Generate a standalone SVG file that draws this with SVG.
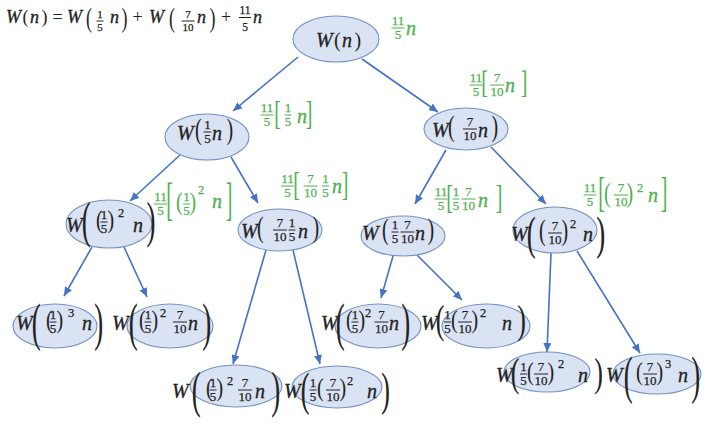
<svg xmlns="http://www.w3.org/2000/svg" width="708" height="424" viewBox="0 0 708 424">
<defs>
<style>
.e{fill:#dae3f3;stroke:#7391c2;stroke-width:1.1}
.m{font-family:"Liberation Serif","Times New Roman",serif;font-style:italic;font-size:20px;fill:#222;stroke:#222;stroke-width:0.3}
.p{font-family:"Liberation Serif","Times New Roman",serif;font-size:20px;fill:#222}
.d{font-family:"Liberation Serif","Times New Roman",serif;font-size:13px;text-anchor:middle;fill:#222;stroke:#222;stroke-width:0.25}
.s{font-family:"Liberation Serif","Times New Roman",serif;font-size:12.5px;fill:#222;stroke:#222;stroke-width:0.25}
.b{stroke:#222;stroke-width:1}
.g .m,.g .p,.g .d,.g .s{fill:#4fb050;stroke:#4fb050}
.g .p{stroke:none}
.g .b{stroke:#4fb050}
.t .m,.t .p{font-size:18px}
.t .d{font-size:11px}
.c{stroke:#4472c4;stroke-width:1.6;fill:none;marker-end:url(#ah)}
</style>
<marker id="ah" markerUnits="userSpaceOnUse" markerWidth="9" markerHeight="8" viewBox="0 0 9 8" refX="9" refY="4" orient="auto">
<path d="M0,0 L9,4 L0,8 Z" fill="#4472c4"/>
</marker>
</defs>
<rect width="708" height="424" fill="#ffffff"/>

<g id="formula" class="t">
<text class="m" x="6" y="23">W</text><text class="p" x="22.5" y="23">(</text><text class="m" x="30" y="23">n</text><text class="p" x="41.5" y="23">)</text>
<text class="p" x="57.5" y="23" text-anchor="middle">=</text>
<text class="m" x="67" y="23">W</text>
<text class="p" transform="translate(86,27) scale(1,1.53)">(</text>
<text class="d" x="100" y="18">1</text><line class="b" x1="96.5" x2="103.5" y1="21" y2="21"/><text class="d" x="100" y="31">5</text>
<text class="m" x="110" y="23">n</text>
<text class="p" transform="translate(121.5,27) scale(1,1.53)">)</text>
<text class="p" x="137.5" y="23" text-anchor="middle">+</text>
<text class="m" x="149" y="23">W</text>
<text class="p" transform="translate(169,27) scale(1,1.53)">(</text>
<text class="d" x="188" y="18">7</text><line class="b" x1="181.5" x2="194.5" y1="21" y2="21"/><text class="d" x="188" y="31">10</text>
<text class="m" x="197" y="23">n</text>
<text class="p" transform="translate(209.5,27) scale(1,1.53)">)</text>
<text class="p" x="226" y="23" text-anchor="middle">+</text>
<text class="d" x="245" y="13.5" style="font-size:11.5px">11</text><line class="b" x1="239" x2="251" y1="17.5" y2="17.5"/><text class="d" x="245" y="31" style="font-size:11.5px">5</text>
<text class="m" x="253" y="23">n</text>
</g>

<g id="connectors">
<line class="c" x1="298" y1="57" x2="233" y2="111"/>
<line class="c" x1="362" y1="59" x2="438" y2="112"/>
<line class="c" x1="180" y1="155" x2="130" y2="201"/>
<line class="c" x1="231" y1="157" x2="258" y2="203"/>
<line class="c" x1="446" y1="150" x2="415" y2="204"/>
<line class="c" x1="491" y1="147" x2="546" y2="204"/>
<line class="c" x1="92" y1="247" x2="64" y2="296"/>
<line class="c" x1="124" y1="247" x2="147" y2="297"/>
<line class="c" x1="266" y1="250" x2="233" y2="364"/>
<line class="c" x1="293" y1="250" x2="320" y2="364"/>
<line class="c" x1="393" y1="256" x2="381" y2="298"/>
<line class="c" x1="417" y1="255" x2="462" y2="300"/>
<line class="c" x1="551" y1="253" x2="547" y2="352"/>
<line class="c" x1="577" y1="251" x2="640" y2="353"/>
</g>

<g id="n-root">
<ellipse class="e" cx="336" cy="39" rx="43" ry="23"/>
<text class="m" x="316" y="47">W</text><text class="p" x="334" y="47">(</text><text class="m" x="342" y="47">n</text><text class="p" x="354.5" y="47">)</text>
</g>
<g id="lbl-root" class="g">
<text class="d" x="398" y="24.5">11</text><line class="b" x1="391.5" x2="404.5" y1="28" y2="28"/><text class="d" x="398" y="38.5">5</text>
<text class="m" x="406" y="35">n</text>
</g>

<g id="n-l1a">
<ellipse class="e" cx="207" cy="137" rx="42" ry="23"/>
<text class="m" x="177" y="140">W</text>
<text class="p" transform="translate(195,139.1) scale(1,1.5)">(</text>
<text class="d" x="207.5" y="128.5">1</text><line class="b" x1="203.5" x2="211.5" y1="132" y2="132"/><text class="d" x="207.5" y="142.5">5</text>
<text class="m" x="212" y="140">n</text>
<text class="p" transform="translate(226.5,139.1) scale(1,1.5)">)</text>
</g>
<g id="lbl-l1a" class="g">
<text class="d" x="267" y="111.5">11</text><line class="b" x1="260.5" x2="273.5" y1="115" y2="115"/><text class="d" x="267" y="125.5">5</text>
<text class="p" transform="translate(274.2,123.7) scale(1,1.72)">[</text>
<text class="d" x="288" y="111.5">1</text><line class="b" x1="284.5" x2="291.5" y1="115" y2="115"/><text class="d" x="288" y="125.5">5</text>
<text class="m" x="297" y="123">n</text>
<text class="p" transform="translate(305.8,123.7) scale(1,1.72)">]</text>
</g>

<g id="n-l1b">
<ellipse class="e" cx="466" cy="129" rx="42" ry="21"/>
<text class="m" x="432" y="137">W</text>
<text class="p" transform="translate(448,136.1) scale(1,1.5)">(</text>
<text class="d" x="470" y="125.5">7</text><line class="b" x1="463" x2="477" y1="129" y2="129"/><text class="d" x="470" y="139.5">10</text>
<text class="m" x="478" y="137">n</text>
<text class="p" transform="translate(491.5,136.1) scale(1,1.5)">)</text>
</g>
<g id="lbl-l1b" class="g">
<text class="d" x="476" y="81.5">11</text><line class="b" x1="469.5" x2="482.5" y1="85" y2="85"/><text class="d" x="476" y="95.5">5</text>
<text class="p" transform="translate(481.2,93.1) scale(1,1.6)">[</text>
<text class="d" x="497" y="81.5">7</text><line class="b" x1="490" x2="504" y1="85" y2="85"/><text class="d" x="497" y="95.5">10</text>
<text class="m" x="505" y="92">n</text>
<text class="p" transform="translate(520.8,93.1) scale(1,1.6)">]</text>
</g>

<g id="n-l2a">
<ellipse class="e" cx="109" cy="224" rx="43" ry="24"/>
<text class="m" x="66" y="232">W</text>
<text class="p" transform="translate(81.7,237.4) scale(1.35,2.5)">(</text>
<text class="p" transform="translate(96,227.7) scale(1,1.3)">(</text>
<text class="d" x="104" y="218.5">1</text><line class="b" x1="100.5" x2="107.5" y1="222" y2="222"/><text class="d" x="104" y="232.5">5</text>
<text class="p" transform="translate(107.5,227.7) scale(1,1.3)">)</text>
<text class="s" x="118" y="217">2</text>
<text class="m" x="133" y="232">n</text>
<text class="p" transform="translate(146.5,237.4) scale(1.35,2.5)">)</text>
</g>
<g id="lbl-l2a" class="g">
<text class="d" x="160.5" y="200.5">11</text><line class="b" x1="154" x2="167" y1="204" y2="204"/><text class="d" x="160.5" y="214.5">5</text>
<text class="p" transform="translate(166.2,215) scale(1,2.27)">[</text>
<text class="p" transform="translate(176,210.2) scale(1,1.3)">(</text>
<text class="d" x="186.5" y="200.5">1</text><line class="b" x1="183" x2="190" y1="204" y2="204"/><text class="d" x="186.5" y="214.5">5</text>
<text class="p" transform="translate(189.5,210.2) scale(1,1.3)">)</text>
<text class="s" x="198" y="194">2</text>
<text class="m" x="212" y="208">n</text>
<text class="p" transform="translate(225.8,215) scale(1,2.27)">]</text>
</g>

<g id="n-l2b">
<ellipse class="e" cx="280" cy="230" rx="42" ry="21"/>
<text class="m" x="241" y="238">W</text>
<text class="p" transform="translate(257,237.1) scale(1,1.5)">(</text>
<text class="d" x="280" y="226.5">7</text><line class="b" x1="273" x2="287" y1="230" y2="230"/><text class="d" x="280" y="240.5">10</text>
<text class="d" x="292" y="226.5">1</text><line class="b" x1="288.5" x2="295.5" y1="230" y2="230"/><text class="d" x="292" y="240.5">5</text>
<text class="m" x="298" y="238">n</text>
<text class="p" transform="translate(312.5,237.1) scale(1,1.5)">)</text>
</g>
<g id="lbl-l2b" class="g">
<text class="d" x="287.5" y="182.5">11</text><line class="b" x1="281" x2="294" y1="186" y2="186"/><text class="d" x="287.5" y="196.5">5</text>
<text class="p" transform="translate(293.2,194.7) scale(1,1.72)">[</text>
<text class="d" x="310.5" y="182.5">7</text><line class="b" x1="303.5" x2="317.5" y1="186" y2="186"/><text class="d" x="310.5" y="196.5">10</text>
<text class="d" x="325.5" y="182.5">1</text><line class="b" x1="322" x2="329" y1="186" y2="186"/><text class="d" x="325.5" y="196.5">5</text>
<text class="m" x="332" y="193">n</text>
<text class="p" transform="translate(341.8,194.7) scale(1,1.72)">]</text>
</g>

<g id="n-l2c">
<ellipse class="e" cx="403" cy="236" rx="42" ry="20"/>
<text class="m" x="362" y="240">W</text>
<text class="p" transform="translate(382,239.1) scale(1,1.5)">(</text>
<text class="d" x="395" y="228.5">1</text><line class="b" x1="391.5" x2="398.5" y1="232" y2="232"/><text class="d" x="395" y="242.5">5</text>
<text class="d" x="407.5" y="228.5">7</text><line class="b" x1="400.5" x2="414.5" y1="232" y2="232"/><text class="d" x="407.5" y="242.5">10</text>
<text class="m" x="415" y="240">n</text>
<text class="p" transform="translate(427.5,239.1) scale(1,1.5)">)</text>
</g>
<g id="lbl-l2c" class="g">
<text class="d" x="441" y="195.5">11</text><line class="b" x1="434.5" x2="447.5" y1="199" y2="199"/><text class="d" x="441" y="209.5">5</text>
<text class="p" transform="translate(446.2,207.7) scale(1,1.72)">[</text>
<text class="d" x="456" y="195.5">1</text><line class="b" x1="452.5" x2="459.5" y1="199" y2="199"/><text class="d" x="456" y="209.5">5</text>
<text class="d" x="468.5" y="195.5">7</text><line class="b" x1="461.5" x2="475.5" y1="199" y2="199"/><text class="d" x="468.5" y="209.5">10</text>
<text class="m" x="478" y="207">n</text>
<text class="p" transform="translate(495.8,207.7) scale(1,1.72)">]</text>
</g>

<g id="n-l2d">
<ellipse class="e" cx="555" cy="230" rx="42" ry="23"/>
<text class="m" x="511" y="241">W</text>
<text class="p" transform="translate(526.8,248.9) scale(1.35,2.3)">(</text>
<text class="p" transform="translate(539,240.1) scale(1,1.5)">(</text>
<text class="d" x="555" y="229.5">7</text><line class="b" x1="548" x2="562" y1="233" y2="233"/><text class="d" x="555" y="243.5">10</text>
<text class="p" transform="translate(561.5,240.1) scale(1,1.5)">)</text>
<text class="s" x="570" y="228">2</text>
<text class="m" x="583" y="241">n</text>
<text class="p" transform="translate(596.3,248.9) scale(1.35,2.3)">)</text>
</g>
<g id="lbl-l2d" class="g">
<text class="d" x="590" y="191.5">11</text><line class="b" x1="583.5" x2="596.5" y1="195" y2="195"/><text class="d" x="590" y="205.5">5</text>
<text class="p" transform="translate(598.2,205.6) scale(1,2.09)">[</text>
<text class="p" transform="translate(604,201.7) scale(1,1.4)">(</text>
<text class="d" x="621" y="191.5">7</text><line class="b" x1="614" x2="628" y1="195" y2="195"/><text class="d" x="621" y="205.5">10</text>
<text class="p" transform="translate(626.5,201.7) scale(1,1.4)">)</text>
<text class="s" x="637" y="192">2</text>
<text class="m" x="648" y="202">n</text>
<text class="p" transform="translate(660.8,205.6) scale(1,2.09)">]</text>
</g>

<g id="n-l3a">
<ellipse class="e" cx="55" cy="326" rx="42" ry="22"/>
<text class="m" x="16" y="330">W</text>
<text class="p" transform="translate(31.8,340.4) scale(1.35,2.6)">(</text>
<text class="p" transform="translate(46,328.2) scale(1,1.3)">(</text>
<text class="d" x="53" y="318.5">1</text><line class="b" x1="49.5" x2="56.5" y1="322" y2="322"/><text class="d" x="53" y="332.5">5</text>
<text class="p" transform="translate(56.5,328.2) scale(1,1.3)">)</text>
<text class="s" x="68" y="317">3</text>
<text class="m" x="82" y="330">n</text>
<text class="p" transform="translate(94.3,340.4) scale(1.35,2.6)">)</text>
</g>

<g id="n-l3b">
<ellipse class="e" cx="170" cy="326" rx="43" ry="22"/>
<text class="m" x="112" y="330">W</text>
<text class="p" transform="translate(128.8,340.4) scale(1.35,2.6)">(</text>
<text class="p" transform="translate(139,328.2) scale(1,1.3)">(</text>
<text class="d" x="148" y="318.5">1</text><line class="b" x1="144.5" x2="151.5" y1="322" y2="322"/><text class="d" x="148" y="332.5">5</text>
<text class="p" transform="translate(151.5,328.2) scale(1,1.3)">)</text>
<text class="s" x="160" y="317">2</text>
<text class="d" x="180" y="318.5">7</text><line class="b" x1="173" x2="187" y1="322" y2="322"/><text class="d" x="180" y="332.5">10</text>
<text class="m" x="188" y="330">n</text>
<text class="p" transform="translate(202.3,340.4) scale(1.35,2.6)">)</text>
</g>

<g id="n-l3c">
<ellipse class="e" cx="378" cy="326" rx="43" ry="22"/>
<text class="m" x="321" y="330">W</text>
<text class="p" transform="translate(335.8,340.4) scale(1.35,2.6)">(</text>
<text class="p" transform="translate(346,328.2) scale(1,1.3)">(</text>
<text class="d" x="355" y="318.5">1</text><line class="b" x1="351.5" x2="358.5" y1="322" y2="322"/><text class="d" x="355" y="332.5">5</text>
<text class="p" transform="translate(358.5,328.2) scale(1,1.3)">)</text>
<text class="s" x="365" y="317">2</text>
<text class="d" x="381.5" y="318.5">7</text><line class="b" x1="374.5" x2="388.5" y1="322" y2="322"/><text class="d" x="381.5" y="332.5">10</text>
<text class="m" x="389" y="330">n</text>
<text class="p" transform="translate(401.3,340.4) scale(1.35,2.6)">)</text>
</g>

<g id="n-l3d">
<ellipse class="e" cx="486" cy="326" rx="44" ry="22"/>
<text class="m" x="421" y="330">W</text>
<text class="p" transform="translate(435.8,333.3) scale(1.3,1.95)">(</text>
<text class="d" x="447.5" y="318.5">1</text><line class="b" x1="444" x2="451" y1="322" y2="322"/><text class="d" x="447.5" y="332.5">5</text>
<text class="p" transform="translate(451,328.2) scale(1,1.3)">(</text>
<text class="d" x="465" y="318.5">7</text><line class="b" x1="458" x2="472" y1="322" y2="322"/><text class="d" x="465" y="332.5">10</text>
<text class="p" transform="translate(471.5,328.2) scale(1,1.3)">)</text>
<text class="s" x="480" y="317">2</text>
<text class="m" x="502" y="330">n</text>
<text class="p" transform="translate(517.3,333.3) scale(1.3,1.95)">)</text>
</g>

<g id="n-l3e">
<ellipse class="e" cx="236" cy="386" rx="46" ry="21"/>
<text class="m" x="172" y="398">W</text>
<text class="p" transform="translate(191.8,407.1) scale(1.35,2.55)">(</text>
<text class="p" transform="translate(206,396.2) scale(1,1.3)">(</text>
<text class="d" x="213" y="386.5">1</text><line class="b" x1="209.5" x2="216.5" y1="390" y2="390"/><text class="d" x="213" y="400.5">5</text>
<text class="p" transform="translate(216.5,396.2) scale(1,1.3)">)</text>
<text class="s" x="227" y="385">2</text>
<text class="d" x="245" y="386.5">7</text><line class="b" x1="238" x2="252" y1="390" y2="390"/><text class="d" x="245" y="400.5">10</text>
<text class="m" x="255" y="398">n</text>
<text class="p" transform="translate(271.3,407.1) scale(1.35,2.55)">)</text>
</g>

<g id="n-l3f">
<ellipse class="e" cx="337" cy="387" rx="45" ry="21"/>
<text class="m" x="284" y="398">W</text>
<text class="p" transform="translate(300.8,404.9) scale(1.3,2.3)">(</text>
<text class="d" x="313" y="386.5">1</text><line class="b" x1="309.5" x2="316.5" y1="390" y2="390"/><text class="d" x="313" y="400.5">5</text>
<text class="p" transform="translate(317,396.2) scale(1,1.3)">(</text>
<text class="d" x="333" y="386.5">7</text><line class="b" x1="326" x2="340" y1="390" y2="390"/><text class="d" x="333" y="400.5">10</text>
<text class="p" transform="translate(339.5,396.2) scale(1,1.3)">)</text>
<text class="s" x="347" y="385">2</text>
<text class="m" x="367" y="398">n</text>
<text class="p" transform="translate(381.3,404.9) scale(1.3,2.3)">)</text>
</g>

<g id="n-l3g">
<ellipse class="e" cx="547" cy="372" rx="43" ry="20"/>
<text class="m" x="496" y="382">W</text>
<text class="p" transform="translate(510.8,385.5) scale(1.3,2)">(</text>
<text class="d" x="523.5" y="370.5">1</text><line class="b" x1="520" x2="527" y1="374" y2="374"/><text class="d" x="523.5" y="384.5">5</text>
<text class="p" transform="translate(527,380.2) scale(1,1.3)">(</text>
<text class="d" x="541" y="370.5">7</text><line class="b" x1="534" x2="548" y1="374" y2="374"/><text class="d" x="541" y="384.5">10</text>
<text class="p" transform="translate(547.5,380.2) scale(1,1.3)">)</text>
<text class="s" x="558" y="368">2</text>
<text class="m" x="578" y="382">n</text>
<text class="p" transform="translate(594.3,385.5) scale(1.3,2)">)</text>
</g>

<g id="n-l3h">
<ellipse class="e" cx="657" cy="374" rx="44" ry="20"/>
<text class="m" x="606" y="382">W</text>
<text class="p" transform="translate(623.8,393.4) scale(1.35,2.6)">(</text>
<text class="p" transform="translate(636,380.2) scale(1,1.3)">(</text>
<text class="d" x="650" y="370.5">7</text><line class="b" x1="643" x2="657" y1="374" y2="374"/><text class="d" x="650" y="384.5">10</text>
<text class="p" transform="translate(656.5,380.2) scale(1,1.3)">)</text>
<text class="s" x="665" y="368">3</text>
<text class="m" x="678" y="382">n</text>
<text class="p" transform="translate(691.3,393.4) scale(1.35,2.6)">)</text>
</g>
</svg>
